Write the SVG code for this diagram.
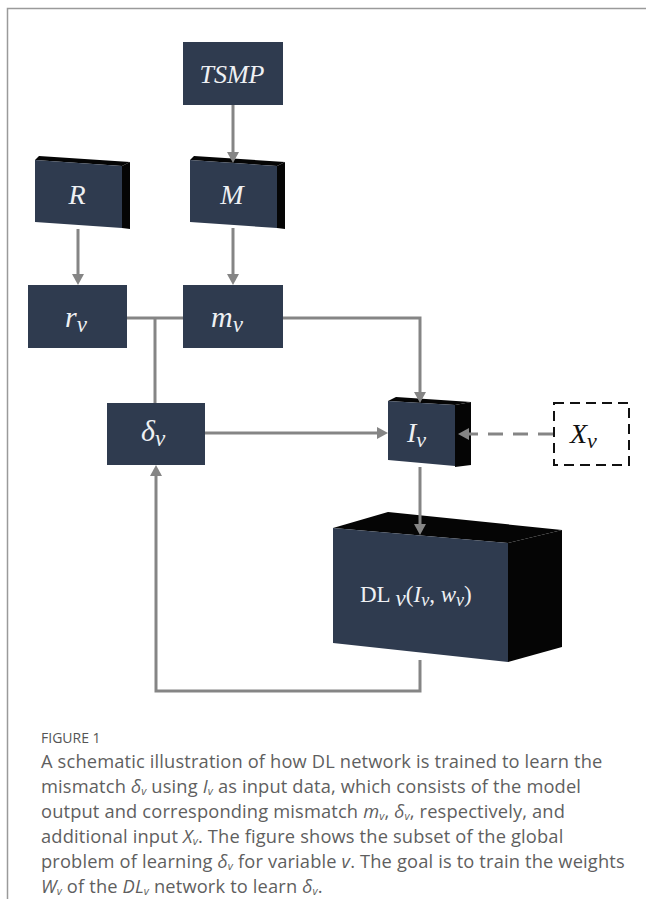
<svg xmlns="http://www.w3.org/2000/svg" width="646" height="899" viewBox="0 0 646 899">
<defs>
<style>
.front{fill:#2f3b4f}
.dark{fill:#050505}
.lbl{font-family:"Liberation Serif","DejaVu Serif",serif;font-style:italic;fill:#eef0f3}
.conn{stroke:#858585;stroke-width:3;fill:none}
.head{fill:#858585}
.cap{font-family:"Open Sans","Liberation Sans",sans-serif;fill:#5f5f5f;font-size:18.3px;letter-spacing:0.15px}
.sub{font-style:italic;font-size:11px}
</style>
</defs>
<rect width="646" height="899" fill="#ffffff"/>
<path d="M7.5,899 V8.5 H646" stroke="#9a9a9a" stroke-width="1.5" fill="none"/>

<g id="tsmp">
<rect class="front" x="183" y="42" width="100" height="63"/>
<text class="lbl" x="232" y="83" font-size="26" text-anchor="middle">TSMP</text>
</g>

<g id="R">
<polygon class="dark" points="35,160 39,156 130,162 122,166"/>
<polygon class="dark" points="122,166 130,162 130,229 122,228"/>
<polygon class="front" points="35,160 122,166 122,228 35,222"/>
<text class="lbl" x="77" y="204" font-size="28" text-anchor="middle">R</text>
</g>

<g id="M">
<polygon class="dark" points="190,160 194,156 285,162 277,166"/>
<polygon class="dark" points="277,166 285,162 285,229 277,228"/>
<polygon class="front" points="190,160 277,166 277,228 190,222"/>
<text class="lbl" x="232" y="204" font-size="28" text-anchor="middle">M</text>
</g>

<g id="rv">
<rect class="front" x="28" y="285" width="99" height="63"/>
<text class="lbl" x="65" y="327" font-size="30">r<tspan font-size="23" dy="5">v</tspan></text>
</g>

<g id="mv">
<rect class="front" x="183" y="285" width="100" height="63"/>
<text class="lbl" x="211" y="327" font-size="30">m<tspan font-size="23" dy="5">v</tspan></text>
</g>

<g id="dv">
<rect class="front" x="107" y="403" width="98" height="62"/>
<text class="lbl" x="141" y="441" font-size="30">δ<tspan font-size="23" dy="5">v</tspan></text>
</g>

<g id="Iv">
<polygon class="dark" points="388,401 396,397 471,402 455,405"/>
<polygon class="dark" points="455,405 471,402 471,465 455,467"/>
<polygon class="front" points="388,401 455,405 455,466 388,460"/>
<text class="lbl" x="407" y="442" font-size="28">I<tspan font-size="22" dy="5">v</tspan></text>
</g>

<g id="Xv">
<rect x="554" y="403" width="75" height="62" fill="none" stroke="#111" stroke-width="2" stroke-dasharray="10,6"/>
<text x="570" y="443" font-size="28" font-family="Liberation Serif,serif" font-style="italic" fill="#111">X<tspan font-size="22" dy="5">v</tspan></text>
</g>

<g id="DL">
<polygon class="dark" points="333,528 388,512 562,530 508,543"/>
<polygon class="dark" points="508,543 562,530 562,647 508,662"/>
<polygon class="front" points="333,528 508,543 508,662 333,643"/>
<text font-family="Liberation Serif,serif" fill="#eef0f3" font-size="23" x="360" y="602">DL <tspan font-style="italic" dy="4">v</tspan><tspan dy="-4">(</tspan><tspan font-style="italic">I</tspan><tspan font-style="italic" font-size="18" dy="4">v</tspan><tspan dy="-4">, </tspan><tspan font-style="italic">w</tspan><tspan font-style="italic" font-size="18" dy="4">v</tspan><tspan dy="-4">)</tspan></text>
</g>

<g id="connectors">
<line class="conn" x1="233" y1="105" x2="233" y2="153"/>
<polygon class="head" points="227,152 239,152 233,163"/>
<line class="conn" x1="78" y1="229" x2="78" y2="275"/>
<polygon class="head" points="72,274 84,274 78,285"/>
<line class="conn" x1="233" y1="228" x2="233" y2="275"/>
<polygon class="head" points="227,274 239,274 233,285"/>
<line class="conn" x1="127" y1="318" x2="183" y2="318"/>
<line class="conn" x1="155" y1="318" x2="155" y2="403"/>
<polyline class="conn" points="283,318 420,318 420,393"/>
<polygon class="head" points="414,392 426,392 420,403"/>
<line class="conn" x1="205" y1="433" x2="378" y2="433"/>
<polygon class="head" points="377,427 377,439 388,433"/>
<line class="conn" x1="553" y1="434" x2="469" y2="434" stroke-dasharray="15,10"/>
<polygon class="head" points="469,428 469,440 458,434"/>
<line class="conn" x1="420" y1="467" x2="420" y2="525"/>
<polygon class="head" points="414,524 426,524 420,535"/>
<polyline class="conn" points="420,660 420,691 156,691 156,475"/>
<polygon class="head" points="150,476 162,476 156,465"/>
</g>

<g id="caption">
<text x="41" y="743" font-family="Open Sans,Liberation Sans,sans-serif" font-size="14" fill="#555">FIGURE 1</text>
<text class="cap" x="41" y="768">A schematic illustration of how DL network is trained to learn the</text>
<text class="cap" x="41" y="793">mismatch <tspan font-style="italic">δ</tspan><tspan class="sub" dy="2">v</tspan><tspan dy="-2"> using </tspan><tspan font-style="italic">I</tspan><tspan class="sub" dy="2">v</tspan><tspan dy="-2"> as input data, which consists of the model</tspan></text>
<text class="cap" x="41" y="818">output and corresponding mismatch <tspan font-style="italic">m</tspan><tspan class="sub" dy="2">v</tspan><tspan dy="-2">, </tspan><tspan font-style="italic">δ</tspan><tspan class="sub" dy="2">v</tspan><tspan dy="-2">, respectively, and</tspan></text>
<text class="cap" x="41" y="843">additional input <tspan font-style="italic">X</tspan><tspan class="sub" dy="2">v</tspan><tspan dy="-2">. The figure shows the subset of the global</tspan></text>
<text class="cap" x="41" y="868">problem of learning <tspan font-style="italic">δ</tspan><tspan class="sub" dy="2">v</tspan><tspan dy="-2"> for variable </tspan><tspan font-style="italic">v</tspan><tspan>. The goal is to train the weights</tspan></text>
<text class="cap" x="41" y="893"><tspan font-style="italic">W</tspan><tspan class="sub" dy="2">v</tspan><tspan dy="-2"> of the </tspan><tspan font-style="italic">DL</tspan><tspan class="sub" dy="2">v</tspan><tspan dy="-2"> network to learn </tspan><tspan font-style="italic">δ</tspan><tspan class="sub" dy="2">v</tspan><tspan dy="-2">.</tspan></text>
</g>
</svg>
